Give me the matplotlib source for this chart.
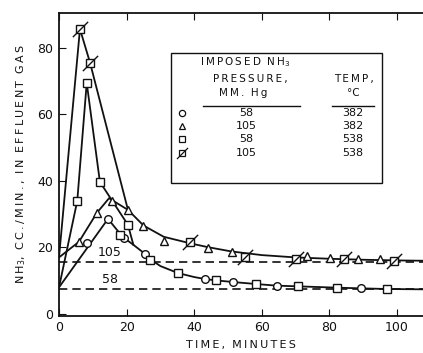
import matplotlib
matplotlib.use("Agg")
import matplotlib.pyplot as plt
from matplotlib.path import Path
from matplotlib.patches import Rectangle

# marker points
t_circ = [8.3, 14.5, 19.2, 25.4, 43.2, 51.5, 64.5, 89.3]
y_circ = [21.3, 28.6, 22.9, 17.9, 10.4, 9.6, 8.4, 7.8]
t_tri = [5.9, 11.2, 15.7, 20.4, 24.9, 31.0, 44.0, 51.2, 73.4, 80.2, 88.5, 95.0]
y_tri = [21.7, 30.4, 34.0, 31.3, 26.5, 22.0, 19.9, 18.5, 17.4, 16.8, 16.5, 16.5]
t_sq = [5.4, 8.2, 12.1, 18.0, 20.4, 26.8, 35.2, 46.4, 58.3, 70.8, 82.2, 97.0]
y_sq = [34.0, 69.5, 39.7, 23.8, 26.8, 16.2, 12.3, 10.2, 9.0, 8.4, 7.8, 7.5]
t_xsq = [6.2, 9.2, 38.8, 55.0, 70.0, 84.4, 99.0]
y_xsq = [85.7, 75.5, 21.6, 17.1, 16.5, 16.5, 16.0]

# hand drawn lines
rise_circ_t = [0, 14.5]
rise_circ_y = [8.0, 28.6]
rise_tri_t = [0, 5.9, 11.2, 14.8, 20.4]
rise_tri_y = [17.0, 21.7, 30.4, 34.8, 31.3]
rise_sq_t = [0, 5.4, 8.2, 12.1, 20.4, 22.0]
rise_sq_y = [8.0, 34.0, 69.5, 39.7, 26.8, 20.8]
rise_xsq_t = [0, 6.2, 9.2, 20.4]
rise_xsq_y = [17.0, 85.7, 75.5, 31.3]

low_t = [14.5, 18.0, 19.2, 22, 25.4, 26.8, 30, 35.2, 40, 43.2, 46.4, 51.5,
         58.3, 64.5, 70.8, 82.2, 89.3, 97, 108]
low_y = [28.6, 24.2, 22.9, 20.8, 18.1, 16.6, 14.4, 12.3, 11.1, 10.5, 10.1, 9.6,
         9.0, 8.5, 8.3, 7.9, 7.7, 7.5, 7.4]
up_t = [20.4, 25, 31, 39, 44, 51, 60, 70, 80, 90, 100, 108]
up_y = [31.3, 26.6, 23.2, 21.2, 20.1, 18.8, 17.7, 17.0, 16.6, 16.3, 16.1, 16.0]

base_press = ["105", "58"]
base_level = [15.7, 7.5]

leg_press = ["58", "105", "58", "105"]
leg_temp = ["382", "382", "538", "538"]

ink = "#111111"
sp = "\u2009"


def spaced(s):
    # wide lettering like the stencil text of the original
    return "  ".join(sp.join(w) for w in s.split(" "))


slash = Path([(-1, -1), (1, 1)], [Path.MOVETO, Path.LINETO])

fig = plt.figure(figsize=(4.23, 3.53), dpi=100)
ax = fig.add_axes([0.1395, 0.105, 0.8605, 0.858])

lw = 1.3
for tt, yy in [(rise_circ_t, rise_circ_y), (rise_tri_t, rise_tri_y),
               (rise_sq_t, rise_sq_y), (rise_xsq_t, rise_xsq_y),
               (low_t, low_y), (up_t, up_y)]:
    ax.plot(tt, yy, color=ink, lw=lw, zorder=2)

for lab, lev in zip(base_press, base_level):
    ax.plot([0, 108], [lev, lev], color=ink, lw=1.2, dashes=(5, 3), zorder=1)
    ax.text(15, lev + 2.9, lab, ha="center", va="center", fontsize=9, color=ink)

mk = dict(ls="none", mfc="white", mec=ink, mew=1.0, zorder=3)
ax.plot(t_circ, y_circ, marker="o", ms=5.5, **mk)
ax.plot(t_tri, y_tri, marker="^", ms=5.5, **mk)
ax.plot(t_sq, y_sq, marker="s", ms=5.2, **mk)
ax.plot(t_xsq, y_xsq, marker="s", ms=5.2, **mk)
ax.plot(t_xsq, y_xsq, marker=slash, ms=11, ls="none", mec=ink, mew=1.0, zorder=4)

ax.set_xlim(0, 107.7)
ax.set_ylim(-0.6, 90.5)
ax.set_xticks([0, 20, 40, 60, 80, 100])
ax.set_yticks([0, 20, 40, 60, 80])
ax.tick_params(direction="in", length=5, width=0.8, labelsize=9, colors=ink,
               top=True, pad=4)
ax.spines["right"].set_visible(False)
for s in ["left", "bottom", "top"]:
    ax.spines[s].set_linewidth(1.3)
    ax.spines[s].set_color(ink)

ax.set_xlabel(spaced("TIME, MINUTES"), fontsize=8, color=ink, labelpad=4)
ax.set_ylabel("N" + sp + "H$_3$," + "  " + spaced("CC./MIN., IN EFFLUENT GAS"),
              fontsize=8, color=ink, labelpad=7)

# legend table
tr = ax.transAxes
ax.add_patch(Rectangle((0.308, 0.439), 0.579, 0.429, transform=tr, fill=True,
                       fc="white", ec=ink, lw=1.0, zorder=5))
kw = dict(transform=tr, ha="center", va="center", fontsize=7.5, color=ink, zorder=6)
ax.text(0.511, 0.838, spaced("IMPOSED") + "  N" + sp + "H$_3$", **kw)
ax.text(0.525, 0.782, spaced("PRESSURE,"), **kw)
ax.text(0.505, 0.736, spaced("MM. Hg"), **kw)
ax.text(0.81, 0.782, spaced("TEMP,"), **kw)
ax.text(0.808, 0.736, "°C", **kw)
ax.plot([0.396, 0.662], [0.693, 0.693], transform=tr, color=ink, lw=1.0, zorder=6)
ax.plot([0.75, 0.865], [0.693, 0.693], transform=tr, color=ink, lw=1.0, zorder=6)
rows = [0.670, 0.627, 0.584, 0.538]
nkw = dict(kw, fontsize=8)
for i, (p, tmp) in enumerate(zip(leg_press, leg_temp)):
    ax.text(0.514, rows[i], p, **nkw)
    ax.text(0.808, rows[i], tmp, **nkw)
lk = dict(transform=tr, ls="none", mfc="white", mec=ink, mew=0.9, zorder=7, clip_on=False)
ax.plot([0.338], [rows[0]], marker="o", ms=4.5, **lk)
ax.plot([0.338], [rows[1]], marker="^", ms=4.5, **lk)
ax.plot([0.338], [rows[2]], marker="s", ms=4.2, **lk)
ax.plot([0.338], [rows[3]], marker="s", ms=4.2, **lk)
ax.plot([0.338], [rows[3]], marker=slash, ms=8, transform=tr, ls="none", mec=ink,
        mew=0.9, zorder=8)

fig.savefig("out.png", dpi=100)
